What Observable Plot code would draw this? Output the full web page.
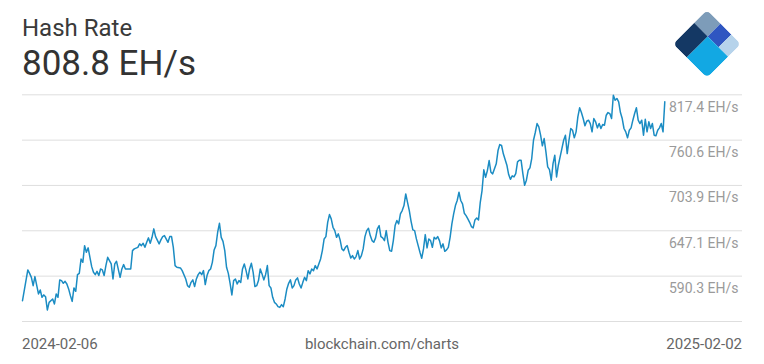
<!DOCTYPE html>
<html>
<head>
<meta charset="utf-8">
<script src="https://cdn.jsdelivr.net/npm/d3@7"></script>
<script src="https://cdn.jsdelivr.net/npm/@observablehq/plot@0.6"></script>
<style>
  html, body { margin: 0; padding: 0; background: #fff; }
  body { width: 764px; height: 364px; position: relative; overflow: hidden; font-family: Roboto, "Noto Sans", sans-serif; }
  #header { position: relative; height: 80px; }
  #title { position: absolute; left: 22px; top: 15.5px; font-size: 24px; line-height: 1; color: #3a3a3a; white-space: nowrap; }
  #value { position: absolute; left: 22px; top: 45.5px; font-size: 35px; line-height: 1; color: #333; white-space: nowrap; }
  #logo { position: absolute; left: 673px; top: 10px; }
  #chart svg { display: block; }
  #footer { position: relative; height: 34px; font-size: 15px; line-height: 1; color: #666; }
  #footer span { position: absolute; top: 7px; white-space: nowrap; }
</style>
</head>
<body>
<div id="header">
  <div id="title"></div>
  <div id="value"></div>
  <svg id="logo" width="68" height="68" viewBox="0 0 68 68">
    <defs>
      <clipPath id="sq"><rect x="0" y="0" width="48" height="48" rx="5" ry="5"></rect></clipPath>
    </defs>
    <g transform="translate(34,0) rotate(45)" clip-path="url(#sq)">
      <rect x="0" y="0" width="19.2" height="18.2" fill="#7d9cb9"></rect>
      <rect x="0" y="18.2" width="19.2" height="29.8" fill="#143864"></rect>
      <rect x="19.2" y="0" width="15.3" height="18.2" fill="#2f56c1"></rect>
      <rect x="34.5" y="0" width="13.5" height="18.2" fill="#b6d3eb"></rect>
      <rect x="19.2" y="18.2" width="28.8" height="29.8" fill="#12a8e3"></rect>
    </g>
  </svg>
</div>
<div id="chart"></div>
<div id="footer">
  <span id="startLabel" style="left:22px"></span>
  <span id="sourceLabel" style="left:382px; transform: translateX(-50%)"></span>
  <span id="endLabel" style="right:22px"></span>
</div>
<script>
const titleText = "Hash Rate";
const unit = "EH/s";
const sourceText = "blockchain.com/charts";
const startDate = "2024-02-06";

// days since 2024-02-06
const days = [
  0,3,4,5,6,7,9,10,11,12,13,14,15,17,18,19,20,21,22,23,24,25,26,27,28,29,30,31,32,33,
  34,35,36,37,38,39,40,41,42,43,44,45,46,47,48,50,51,52,53,55,56,57,58,60,61,62,63,65,66,67,
  68,69,70,71,72,73,74,75,77,78,79,80,82,83,84,85,86,87,89,90,92,93,94,95,96,97,98,99,100,101,
  102,103,104,105,106,107,108,109,110,111,112,113,114,115,116,117,118,119,120,121,122,123,124,125,126,127,128,129,130,131,
  132,133,134,135,136,137,138,139,140,141,142,143,144,145,146,147,148,149,150,151,152,153,154,155,156,157,158,159,160,161,
  162,163,164,165,166,167,168,169,170,171,172,173,174,175,176,177,178,179,180,181,182,183,184,185,186,187,188,189,190,191,
  192,193,194,195,196,197,198,199,200,201,202,203,204,205,206,207,208,209,210,211,212,213,214,215,216,217,218,219,220,221,
  222,223,224,225,226,227,228,229,230,231,232,233,234,235,236,237,238,239,240,241,242,243,244,245,246,247,248,249,250,251,
  252,253,254,255,256,257,258,259,260,261,262,263,264,265,267,268,269,270,271,273,274,275,276,277,278,279,280,281,282,283,
  284,285,286,287,288,289,290,291,292,293,294,295,296,297,298,299,300,301,302,303,304,305,306,307,308,309,310,311,312,313,
  314,315,316,317,318,319,320,321,322,323,324,325,326,327,328,329,330,331,332,333,334,335,336,337,338,339,340,341,342,343,
  344,345,346,347,348,349,350,351,352,353,354,355,356,357,358,359,360,361,362
];

// EH/s
const hashRate = [
  559.6,598.1,593.8,588.8,578.4,589.7,568,573,563.8,566.8,564.6,547.9,557.5,561.7,555.5,568,563.8,585.6,584.7,581.3,583.8,580.5,574.3,565.9,558.7,575.5,571.3,592.2,593.8,611.8,
  607.6,628.5,620.2,625.7,613.9,602.2,595.1,592.2,596.3,591,599.3,598.1,591,603.5,613.9,605.6,586.8,605.6,608.9,588.8,599.3,604.7,599.3,599.3,599.3,622.3,624.4,626.4,630.7,628.5,
  631.4,626.4,632.7,638.2,631.4,638.9,649.5,639.8,630.7,635.7,639.8,641.1,632.7,639.8,639.8,626.4,603.5,601.4,600.6,597.2,586.8,578.4,576.3,582.5,585.6,577.2,586.8,592.2,595.1,592.2,
  597.2,579.7,591,597.2,599.3,607.6,623.1,628.5,645.3,656.5,638.9,633.9,622.3,601.4,593.8,581.3,566.8,584.7,586.8,580.5,584.7,582.5,599.3,605.6,597.2,586.8,599.3,606.4,595.1,577.2,
  578.4,584.7,599.3,593.1,585.6,592.2,603.5,578.4,575.5,563.8,557.5,555.5,552.1,551.2,554.6,552.1,561.7,574.3,581.3,585.6,575.5,578.4,585.6,588.1,580.5,575.5,582.5,588.8,584.7,597.2,
  593.1,599.3,597.2,603.5,599.3,605.6,611.8,622.3,636.9,639.8,657.7,667.4,662,651.5,647.3,638.9,643.2,635.7,624.4,622.3,626.4,628.5,620.2,613.1,616,611.8,614.8,622.3,611.8,616,
  624.4,639.8,647.3,650.2,641.1,634.8,632.7,638.2,649.5,653.6,639.8,638.2,634.8,647.3,632.7,622.3,621.4,634.8,653.6,659.9,655.7,668.3,672.4,678.7,693.3,682.8,672.4,659,648.2,647.3,
  636.9,628.5,620.2,612.6,624.4,642.3,625.7,636.9,634.8,626.4,638.9,636.9,639.8,634.8,625.7,630.7,621.4,623.1,626.4,638.9,655.7,668.3,678.7,685,695.4,685,680.8,669.1,666.1,662,
  657.7,652.4,650.7,660.7,663.2,660.7,682.8,697.5,723.4,714.1,722.5,735.1,720.4,718.4,730.9,747.6,755.1,753.9,743.5,729.2,717.5,711.6,715.9,714.6,718.8,733.4,735.5,735.5,718.8,704.1,
  710.4,722.9,725.9,737.6,760.5,770.2,781.4,777.3,766.8,753.5,762.6,746,727.2,723.8,710.4,731.3,741.7,714.6,729.2,739.7,750.1,760.5,766.8,743.8,760.5,775.2,773,763.5,771,789.8,
  801.1,795.2,787.7,778.6,784.3,785.6,781.4,771,787.7,783.6,776,781.4,775.2,780.2,779.3,791.8,795.2,793.9,787.7,816.9,810.6,812.8,808.6,795.2,787.7,775.2,771,763.5,773,776,
  785.6,793.9,801.1,785.6,781.4,785.6,766.8,786.8,771,783.6,775.2,781.4,766.8,766,773,776,781.4,771,808.8
];

const yTicks = [590.3, 647.1, 703.9, 760.6, 817.4];
const yBase = 533.5;

const start = new Date(startDate + "T00:00:00Z");
const data = days.map((d, i) => ({date: d3.utcDay.offset(start, d), value: hashRate[i]}));
const fmtDate = d3.utcFormat("%Y-%m-%d");

document.getElementById("title").textContent = titleText;
document.getElementById("value").textContent = `${hashRate[hashRate.length - 1].toFixed(1)} ${unit}`;
document.getElementById("startLabel").textContent = fmtDate(data[0].date);
document.getElementById("endLabel").textContent = fmtDate(data[data.length - 1].date);
document.getElementById("sourceLabel").textContent = sourceText;

const chart = Plot.plot({
  width: 764,
  height: 250,
  marginLeft: 22,
  marginRight: 22,
  marginTop: 14,
  marginBottom: 9,
  style: {fontFamily: "Roboto, sans-serif", background: "transparent"},
  x: {type: "utc", range: [22, 664.3], axis: null},
  y: {domain: [yBase, 817.4], range: [241, 14.3], axis: null},
  marks: [
    Plot.ruleY([...yTicks, yBase], {stroke: "#dedede", strokeWidth: 1}),
    Plot.line(data, {x: "date", y: "value", stroke: "#1b8cc3", strokeWidth: 1.5, strokeLinejoin: "round"}),
    Plot.text(yTicks, {y: d => d, text: d => `${d.toFixed(1)} ${unit}`, frameAnchor: "right", textAnchor: "end", dx: -4, dy: 12.5, fill: "#9a9a9a", fontSize: 14})
  ]
});
document.getElementById("chart").appendChild(chart);
</script>
</body>
</html>
